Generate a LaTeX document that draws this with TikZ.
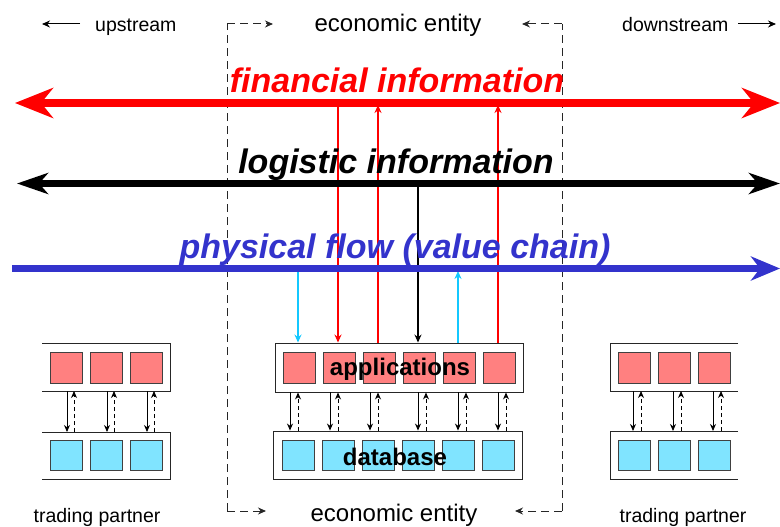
\documentclass[tikz,border=0pt]{standalone}
\usepackage{fontspec}
\setmainfont{Liberation Sans}
\usetikzlibrary{arrows.meta,calc}
\definecolor{finred}{RGB}{255,0,0}
\definecolor{physblue}{RGB}{51,51,204}
\definecolor{cyline}{RGB}{20,200,255}
\definecolor{pinkfill}{RGB}{255,128,128}
\definecolor{cyanfill}{RGB}{128,228,255}
\begin{document}
\begin{tikzpicture}[x=1pt,y=-1pt,
  flowtxt/.style={font=\fontsize{34}{40}\selectfont\bfseries\itshape, inner sep=0, anchor=base},
  lbl/.style={font=\fontsize{19.5}{22}\selectfont, inner sep=0, anchor=base},
  ent/.style={font=\fontsize{24}{28}\selectfont, inner sep=0, anchor=base},
  boxlbl/.style={font=\fontsize{24}{28}\selectfont\bfseries, inner sep=0, anchor=base},
  pbox/.style={draw=black!75, fill=pinkfill, minimum width=32pt, minimum height=31pt, inner sep=0, line width=0.9pt},
  cbox/.style={draw=black!75, fill=cyanfill, minimum width=32pt, minimum height=30pt, inner sep=0, line width=0.9pt},
  frame/.style={draw=black!85, line width=0.9pt},
  finarr/.style={draw=finred, line width=8pt, {Stealth[length=38pt,width=30pt,inset=12pt]}-{Stealth[length=38pt,width=30pt,inset=12pt]}},
  logarr/.style={draw=black, line width=6.5pt, {Stealth[length=31pt,width=21pt,inset=9pt]}-{Stealth[length=31pt,width=21pt,inset=9pt]}},
  physarr/.style={draw=physblue, line width=7pt, -{Stealth[length=29pt,width=24pt,inset=9pt]}},
  redv/.style={draw=finred, line width=1.6pt},
  blkv/.style={draw=black, line width=1.3pt},
  cyv/.style={draw=cyline, line width=1.6pt},
  vtip/.style={arrows={-Stealth[length=8pt,width=7pt]}},
  solidv/.style={draw=black, line width=0.9pt, -{Stealth[length=7pt,width=6pt]}},
  dashv/.style={draw=black, line width=0.9pt, dash pattern=on 4pt off 3pt, -{Stealth[length=7pt,width=6pt]}},
  ebr/.style={draw=black!85, line width=1pt, dash pattern=on 8pt off 5pt},
  smalltip/.style={-{Stealth[length=8pt,width=7pt]}},
  thinarr/.style={draw=black, line width=1pt, -{Stealth[length=8pt,width=7pt]}}
]
\useasboundingbox (0,0) rectangle (780,527);

% flow line coordinates
\coordinate (finL) at (15,103);
\coordinate (finR) at (780,103);
\coordinate (finB) at (0,105);
\coordinate (logL) at (17,183.5);
\coordinate (logR) at (780,183.5);
\coordinate (logB) at (0,186);
\coordinate (physL) at (12,268.5);
\coordinate (physR) at (780,268.5);
\coordinate (physB) at (0,271);

% economic entity dashed bracket
\coordinate (eLt) at (227,24);
\coordinate (eLta) at (273,24);
\coordinate (eLb) at (227,511);
\coordinate (eLba) at (266,511);
\coordinate (eRt) at (562,24);
\coordinate (eRta) at (522,24);
\coordinate (eRb) at (562,511);
\coordinate (eRba) at (515,511);
\draw[ebr] (eLb) -- (eLt);
\draw[ebr, smalltip] (eLt) -- (eLta);
\draw[ebr, smalltip] (eLb) -- (eLba);
\draw[ebr] (eRb) -- (eRt);
\draw[ebr, smalltip] (eRt) -- (eRta);
\draw[ebr, smalltip] (eRb) -- (eRba);

% top labels
\node[ent] (ent1) at (398,32) {economic entity};
\node[ent] (ent2) at (394,521) {economic entity};
\node[lbl, anchor=base west] (up) at (95,32) {upstream};
\node[lbl, anchor=base west] (down) at (622,32) {downstream};
\coordinate (upA) at (80,24);
\coordinate (upB) at (42,24);
\coordinate (dnA) at (738,24);
\coordinate (dnB) at (776,24);
\draw[thinarr] (upA) -- (upB);
\draw[thinarr] (dnA) -- (dnB);

% central entity
\node[frame, minimum width=248pt, minimum height=49pt, inner sep=0] (appf) at (399,367.5) {};
\node[frame, minimum width=249pt, minimum height=48pt, inner sep=0] (dbf) at (397.5,455) {};
\foreach \i/\x in {1/299,2/339,3/379,4/419,5/459,6/499} {
  \node[pbox] (a\i) at (\x,367.5) {};
  \node[cbox] (d\i) at (\x-0.5,455) {};
}
\foreach \i/\s/\d in {1/-9/-1,2/-9/-1,3/-9/-1,4/-1/7,5/-1/7,6/-1/7} {
  \draw[solidv] ($(a\i.center |- appf.south)+(\s,0)$) -- ($(a\i.center |- dbf.north)+(\s,0)$);
  \draw[dashv] ($(a\i.center |- dbf.north)+(\d,0)$) -- ($(a\i.center |- appf.south)+(\d,0)$);
}
\node[boxlbl] (applbl) at (400,375) {applications};
\node[boxlbl] (dblbl) at (395,465) {database};

% left trading partner
\draw[frame] (42,343) -| (170,391) -- (42,391);
\draw[frame] (42,432) -| (170,479) -- (42,479);
\coordinate (lab) at (106,391);
\coordinate (ldt) at (106,432);
\foreach \i/\x in {1/66,2/106,3/146} {
  \node[pbox] (lp\i) at (\x,367.5) {};
  \node[cbox] (ld\i) at (\x,455) {};
  \draw[solidv] ($(lp\i.center |- lab)+(1,0)$) -- ($(lp\i.center |- ldt)+(1,0)$);
  \draw[dashv] ($(lp\i.center |- ldt)+(8,0)$) -- ($(lp\i.center |- lab)+(8,0)$);
}
\node[lbl] (tp1) at (97,522) {trading partner};

% right trading partner
\draw[frame] (738,343) -| (610,391) -- (738,391);
\draw[frame] (738,431) -| (610,479) -- (738,479);
\coordinate (rab) at (674,391);
\coordinate (rdt) at (674,431);
\foreach \i/\x in {1/634,2/674,3/714} {
  \node[pbox] (rp\i) at (\x,367.5) {};
  \node[cbox] (rd\i) at (\x,455) {};
  \draw[solidv] ($(rp\i.center |- rab)+(-1,0)$) -- ($(rp\i.center |- rdt)+(-1,0)$);
  \draw[dashv] ($(rp\i.center |- rdt)+(7,0)$) -- ($(rp\i.center |- rab)+(7,0)$);
}
\node[lbl] (tp2) at (683,522) {trading partner};

% vertical connectors to applications
\draw[cyv, vtip] ($(a1.center |- physB)+(-1,0)$) -- ($(a1.center |- appf.north)+(-1,0)$);
\draw[redv, vtip] ($(a2.center |- finB)+(-1,0)$) -- ($(a2.center |- appf.north)+(-1,0)$);
\draw[redv, vtip] ($(a3.center |- appf.north)+(-1,0)$) -- ($(a3.center |- finB)+(-1,0)$);
\draw[blkv, vtip] ($(a4.center |- logB)+(-1,0)$) -- ($(a4.center |- appf.north)+(-1,0)$);
\draw[cyv, vtip] ($(a5.center |- appf.north)+(-1,0)$) -- ($(a5.center |- physB)+(-1,0)$);
\draw[redv, vtip] ($(a6.center |- appf.north)+(-1,0)$) -- ($(a6.center |- finB)+(-1,0)$);

% flow lines
\draw[finarr] (finL) -- (finR);
\draw[logarr] (logL) -- (logR);
\draw[physarr] (physL) -- (physR);

% flow labels
\node[flowtxt, text=finred] (fin) at (397,93) {financial information};
\node[flowtxt, text=black] (log) at (396,173) {logistic information};
\node[flowtxt, text=physblue] (phys) at (395,258) {physical flow (value chain)};
\end{tikzpicture}
\end{document}
